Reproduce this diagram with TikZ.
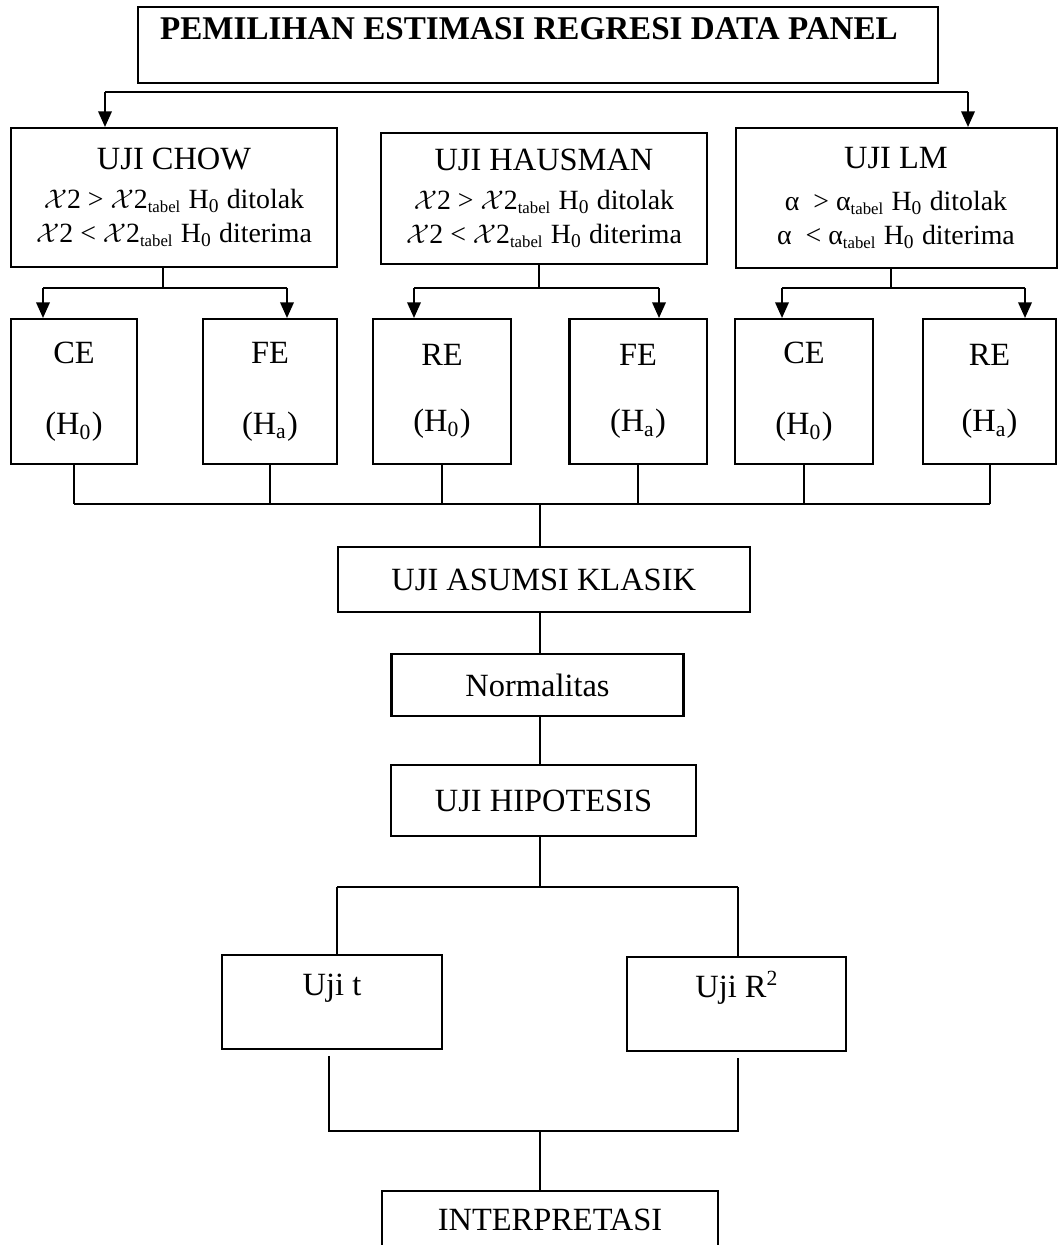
\documentclass[tikz,border=0pt]{standalone}
\usepackage{fontspec}
\setmainfont{Liberation Serif}
\usetikzlibrary{arrows.meta}

\newcommand{\pxu}{0.37pt}
\newcommand{\linefont}{\fontsize{10.3}{12.2}\selectfont}
\newcommand{\xtwo}{$\mathcal{X}$2}
\newcommand{\tabelsub}{\textsubscript{\fontsize{6.2}{7}\selectfont tabel}}

\begin{document}
\begin{tikzpicture}[x=0.37pt, y=-0.37pt,
    box/.style={draw, line width=0.75pt, inner sep=0pt, align=center, font=\fontsize{12}{12.2}\selectfont},
    sz/.style 2 args={minimum width=#1*\pxu, minimum height=#2*\pxu},
    conn/.style={line width=0.75pt},
    arr/.style={line width=0.75pt, -{Triangle[length=5.8pt,width=5pt]}}]
  \useasboundingbox (0,0) rectangle (1058,1245);

  % title
  \node[box, sz={800}{76}] (title) at (538,45) {};
  \node[font=\bfseries\fontsize{12.25}{12.5}\selectfont, inner sep=0pt] (titletext) at (529,29) {PEMILIHAN ESTIMASI REGRESI DATA PANEL};
  \coordinate (tl) at (105,92);
  \coordinate (tr) at (968,92);

  % three tests
  \node[box, sz={326}{139}] (chow) at (174,197.5) {UJI CHOW\\[2pt]
    {\linefont \xtwo{} > \xtwo\tabelsub{} H\textsubscript{0} ditolak}\\[0.5pt]
    {\linefont \xtwo{} < \xtwo\tabelsub{} H\textsubscript{0} diterima}};
  \node[box, sz={326}{131}] (haus) at (544,198.5) {UJI HAUSMAN\\[2pt]
    {\linefont \xtwo{} > \xtwo\tabelsub{} H\textsubscript{0} ditolak}\\[0.5pt]
    {\linefont \xtwo{} < \xtwo\tabelsub{} H\textsubscript{0} diterima}};
  \node[box, sz={321}{140}] (lm) at (896,198) {UJI LM\\[3.5pt]
    {\linefont α~ > α\tabelsub{} H\textsubscript{0} ditolak}\\[0.5pt]
    {\linefont α~ < α\tabelsub{} H\textsubscript{0} diterima}};

  \draw[conn] (tl) -- (tr);
  \draw[arr] (tl) -- (tl |- chow.north);
  \draw[arr] (tr) -- (tr |- lm.north);

  % estimation models
  \node[box, sz={126}{145}] (ce1) at (74,391.5) {CE\\[14pt](H\textsubscript{0})};
  \node[box, sz={134}{145}] (fe1) at (270,391.5) {FE\\[14pt](H\textsubscript{a})};
  \node[box, sz={138}{145}] (re1) at (442,391.5) {RE\\[12pt](H\textsubscript{0})};
  \node[box, sz={137}{145}] (fe2) at (638,391.5) {FE\\[12pt](H\textsubscript{a})};
  \node[box, sz={138}{145}] (ce2) at (804,391.5) {CE\\[14pt](H\textsubscript{0})};
  \node[box, sz={133}{145}] (re2) at (989.5,391.5) {RE\\[12pt](H\textsubscript{a})};

  \coordinate (chowl) at (43,288);
  \coordinate (chowj) at (163,288);
  \coordinate (chowr) at (287,288);
  \draw[conn] (chow.south -| chowj) -- (chowj);
  \draw[conn] (chowl) -- (chowr);
  \draw[arr] (chowl) -- (chowl |- ce1.north);
  \draw[arr] (chowr) -- (chowr |- fe1.north);

  \coordinate (hausl) at (414,288);
  \coordinate (hausj) at (539,288);
  \coordinate (hausr) at (659,288);
  \draw[conn] (haus.south -| hausj) -- (hausj);
  \draw[conn] (hausl) -- (hausr);
  \draw[arr] (hausl) -- (hausl |- re1.north);
  \draw[arr] (hausr) -- (hausr |- fe2.north);

  \coordinate (lml) at (782,288);
  \coordinate (lmj) at (891,288);
  \coordinate (lmr) at (1025,288);
  \draw[conn] (lm.south -| lmj) -- (lmj);
  \draw[conn] (lml) -- (lmr);
  \draw[arr] (lml) -- (lml |- ce2.north);
  \draw[arr] (lmr) -- (lmr |- re2.north);

  % merge into the classical assumption test
  \coordinate (mrow) at (540,504);
  \foreach \m in {ce1,fe1,re1,fe2,ce2,re2}
    \draw[conn] (\m.south) -- (\m.south |- mrow);
  \draw[conn] (ce1.south |- mrow) -- (re2.south |- mrow);

  \node[box, sz={412}{65}] (klasik) at (543.75,579.5) {UJI ASUMSI KLASIK};
  \node[box, sz={292}{62}] (normal) at (537.5,685) {Normalitas};
  \node[box, sz={305}{71}] (hipo) at (543.5,800.5) {UJI HIPOTESIS};
  \draw[conn] (mrow) -- (mrow |- klasik.north);
  \draw[conn] (klasik.south -| mrow) -- (normal.north -| mrow);
  \draw[conn] (normal.south -| mrow) -- (hipo.north -| mrow);

  % hypothesis tests
  \node[box, sz={220}{94}] (ujit) at (332,1002) {};
  \node[font=\fontsize{12}{12.2}\selectfont, inner sep=0pt] (ujittext) at (332,988) {Uji t};
  \node[box, sz={219}{94}] (ujir) at (736.5,1004) {};
  \node[font=\fontsize{12}{12.2}\selectfont, inner sep=0pt] (ujirtext) at (737,988) {Uji R\textsuperscript{2}};

  \coordinate (hsplit) at (540,887);
  \coordinate (hl) at (337,887);
  \coordinate (hr) at (738,887);
  \draw[conn] (hipo.south -| hsplit) -- (hsplit);
  \draw[conn] (hl) -- (hr);
  \draw[conn] (hl) -- (hl |- ujit.north);
  \draw[conn] (hr) -- (hr |- ujir.north);

  % interpretation
  \coordinate (bl) at (329,1131);
  \coordinate (bm) at (540,1131);
  \coordinate (br) at (738,1131);
  \draw[conn, shorten <=2.2pt, shorten >=2.2pt] (ujit.south -| bl) -- (bl) -- (br) -- (ujir.south -| br);

  \node[box, sz={336}{58}] (interp) at (550,1220) {INTERPRETASI};
  \draw[conn] (bm) -- (bm |- interp.north);
\end{tikzpicture}
\end{document}
